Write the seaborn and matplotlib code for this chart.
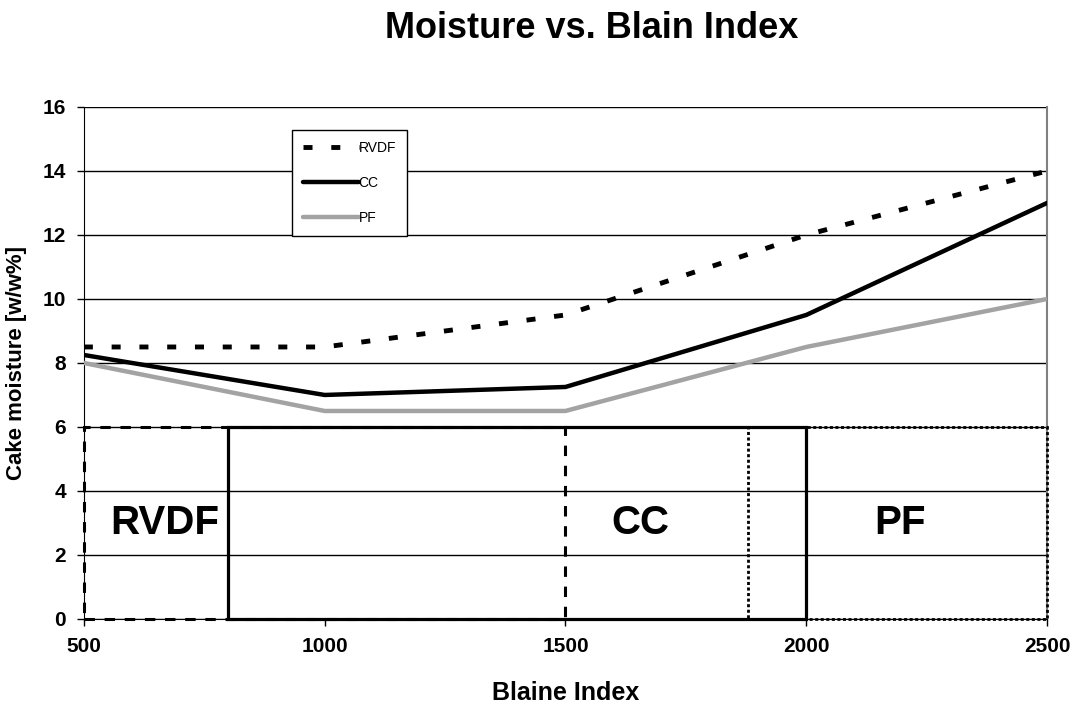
import numpy as np
import pandas as pd
import seaborn as sns
import matplotlib.pyplot as plt
from matplotlib.patches import Rectangle

# data
blaine = [500, 1000, 1500, 2000, 2500]
rvdf_moisture = [8.5, 8.5, 9.5, 12.0, 14.0]
cc_moisture = [8.25, 7.0, 7.25, 9.5, 13.0]
pf_moisture = [8.0, 6.5, 6.5, 8.5, 10.0]

# operating ranges (blaine start, blaine end, moisture height)
range_names = ['RVDF', 'CC', 'PF']
range_start = [500, 800, 1880]
range_end = [1500, 2000, 2500]
range_height = [6, 6, 6]
range_label_x = [668, 1655, 2195]
range_label_y = [3, 3, 3]

x_ticks = [500, 1000, 1500, 2000, 2500]
y_ticks = [0, 2, 4, 6, 8, 10, 12, 14, 16]

df = pd.DataFrame({
    'Blaine Index': blaine * 3,
    'moisture': rvdf_moisture + cc_moisture + pf_moisture,
    'process': ['RVDF'] * 5 + ['CC'] * 5 + ['PF'] * 5,
})

sns.set_style('white')
plt.rcParams['font.family'] = ['Liberation Sans', 'DejaVu Sans']
plt.rcParams['lines.scale_dashes'] = False
plt.rcParams['text.color'] = 'black'
plt.rcParams['axes.labelcolor'] = 'black'
plt.rcParams['xtick.color'] = 'black'
plt.rcParams['ytick.color'] = 'black'

fig = plt.figure(figsize=(10.75, 7.07), dpi=100)
ax = fig.add_axes([0.078, 0.1245, 0.896, 0.7242])

styles = {
    'RVDF': dict(color='black', linewidth=3.5, dashes=(6.5, 13.5)),
    'CC': dict(color='black', linewidth=3.2),
    'PF': dict(color='#a3a3a3', linewidth=3.2),
}
for name in ['RVDF', 'CC', 'PF']:
    sub = df[df['process'] == name]
    kw = dict(styles[name])
    dashes = kw.pop('dashes', None)
    sns.lineplot(data=sub, x='Blaine Index', y='moisture', ax=ax, label=name,
                 zorder=3, **kw)
    if dashes is not None:
        ax.lines[-1].set_dashes(dashes)

# operating range boxes
box_styles = [
    dict(linestyle=(0, (7.5, 7)), linewidth=2.2),
    dict(linestyle='-', linewidth=2.3),
    dict(linestyle=(0, (2.2, 1.8)), linewidth=2.0),
]
for x0, x1, h, st in zip(range_start, range_end, range_height, box_styles):
    ax.add_patch(Rectangle((x0, 0), x1 - x0, h, fill=False, edgecolor='black',
                           zorder=4, clip_on=False, **st))
for name, lx, ly in zip(range_names, range_label_x, range_label_y):
    ax.text(lx, ly, name, ha='center', va='center', fontsize=29,
            fontweight='bold', zorder=5)

ax.set_xlim(500, 2500)
ax.set_ylim(0, 16)
ax.set_xticks(x_ticks)
ax.set_yticks(y_ticks)
ax.yaxis.grid(True, color='black', linewidth=1)
ax.xaxis.grid(False)
ax.tick_params(axis='both', which='both', direction='out', length=5, width=1,
               color='black', labelsize=15, bottom=True, left=True, pad=8)
for lbl in ax.get_xticklabels() + ax.get_yticklabels():
    lbl.set_fontweight('bold')

sns.despine(ax=ax, top=True, right=False)
ax.spines['left'].set_color('black')
ax.spines['bottom'].set_color('black')
ax.spines['right'].set_color('#808080')
ax.spines['right'].set_linewidth(1.5)

ax.set_xlabel('Blaine Index', fontsize=18, fontweight='bold', labelpad=18)
ax.set_ylabel('Cake moisture [w/w%]', fontsize=16, fontweight='bold', labelpad=11)
fig.suptitle('Moisture vs. Blain Index', fontsize=26, fontweight='bold',
             x=0.55, y=0.985)

leg = ax.legend(loc='upper left', bbox_to_anchor=(0.216, 0.955), borderaxespad=0,
                frameon=True, fancybox=False, edgecolor='black', fontsize=10,
                handlelength=4, handletextpad=0, labelspacing=1.5,
                borderpad=0.8)
leg.get_frame().set_linewidth(1)
leg.get_frame().set_alpha(1)

fig.savefig('out.png', dpi=100)
